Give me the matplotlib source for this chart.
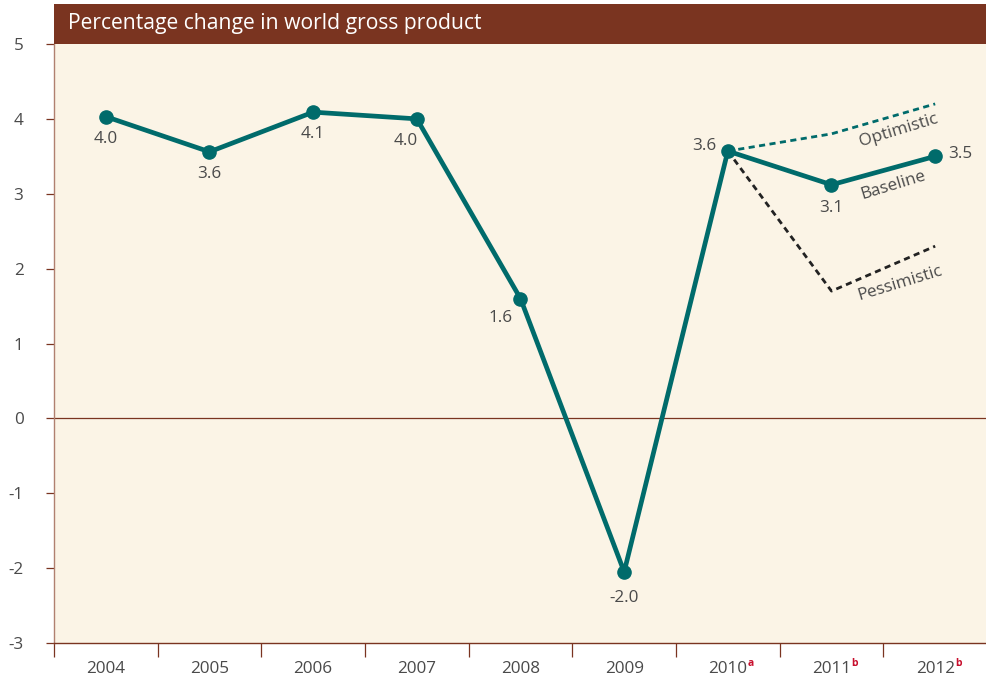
import matplotlib
matplotlib.use("Agg")
import matplotlib.pyplot as plt
from matplotlib.patches import Rectangle

plt.rcParams['font.family'] = ['Open Sans', 'DejaVu Sans']

years = ["2004", "2005", "2006", "2007", "2008", "2009", "2010", "2011", "2012"]
superscripts = ["", "", "", "", "", "", "a", "b", "b"]
baseline = [4.03, 3.56, 4.09, 4.0, 1.6, -2.05, 3.57, 3.12, 3.5]
baseline_labels = ["4.0", "3.6", "4.1", "4.0", "1.6", "-2.0", "3.6", "3.1", "3.5"]
opt_idx = [6, 7, 8]
optimistic = [3.57, 3.8, 4.2]
pessimistic = [3.57, 1.7, 2.3]
title = "Percentage change in world gross product"

teal = "#006B6B"
brown = "#7A3420"
cream = "#FBF4E6"
grey = "#4a4a4a"
fs = 12.3

fig = plt.figure(figsize=(9.87, 6.86), dpi=100)
ax = fig.add_axes([54/987, 43/686, 1 - 54/987, 599/686])
ax.set_facecolor(cream)

x = list(range(len(years)))
ax.plot(opt_idx, optimistic, linestyle=(0, (2.2, 1.6)), color=teal, lw=2.0, zorder=2)
ax.plot(opt_idx, pessimistic, linestyle=(0, (2.2, 1.6)), color="#222222", lw=2.0, zorder=2)
ax.plot(x, baseline, color=teal, lw=3.4, marker='o', ms=9.5, zorder=3)

ax.axhline(0, color=brown, lw=0.9, zorder=1)

# data labels: offsets in points
offsets = [(0, -16), (0, -16), (0, -16), (-8, -16), (-14, -14), (0, -19), (-17, 4), (0, -17), (18, 2)]
for i, (lab, off) in enumerate(zip(baseline_labels, offsets)):
    ax.annotate(lab, (x[i], baseline[i]), xytext=off, textcoords='offset points',
                ha='center', va='center', fontsize=fs, color=grey)

ax.text(7.65, 3.84, "Optimistic", rotation=17, fontsize=fs, color=grey,
        ha='center', va='center')
ax.text(7.6, 3.11, "Baseline", rotation=17, fontsize=fs, color=grey,
        ha='center', va='center')
ax.text(7.66, 1.8, "Pessimistic", rotation=17, fontsize=fs, color=grey,
        ha='center', va='center')

ax.set_xlim(-0.5, 8.5 - 3/104)
ax.set_ylim(-3, 5)
ax.set_yticks(range(-3, 6))
ax.set_yticklabels([str(v) for v in range(-3, 6)], fontsize=fs, color=grey)
ax.set_xticks([i + 0.5 for i in range(-1, 9)])
ax.set_xticklabels([])
ax.tick_params(axis='x', direction='out', length=10, width=0.9, color=brown)
ax.tick_params(axis='y', direction='out', length=6, width=0.9, color=brown, pad=16)

for i, (yr, sup) in enumerate(zip(years, superscripts)):
    ax.annotate(yr, (i, -3), xytext=(0, -19), textcoords='offset points',
                ha='center', va='center', fontsize=fs, color=grey, annotation_clip=False)
    if sup:
        ax.annotate(sup, (i, -3), xytext=(16.5, -15), textcoords='offset points',
                    ha='center', va='center', fontsize=7.5, color="#C8102E",
                    fontweight='bold', annotation_clip=False)

for s in ['top', 'right']:
    ax.spines[s].set_visible(False)
ax.spines['left'].set_color("#B08070")
ax.spines['left'].set_linewidth(1.0)
ax.spines['bottom'].set_color(brown)
ax.spines['bottom'].set_linewidth(1.0)

# title bar
fig.patches.append(Rectangle((54/987, 642/686), 1 - 54/987, 40/686,
                             transform=fig.transFigure, facecolor=brown, edgecolor='none'))
fig.text(68/987, 662/686, title, color='white', fontsize=15.2, ha='left', va='center')

fig.savefig("out.png", dpi=100, facecolor='white')
